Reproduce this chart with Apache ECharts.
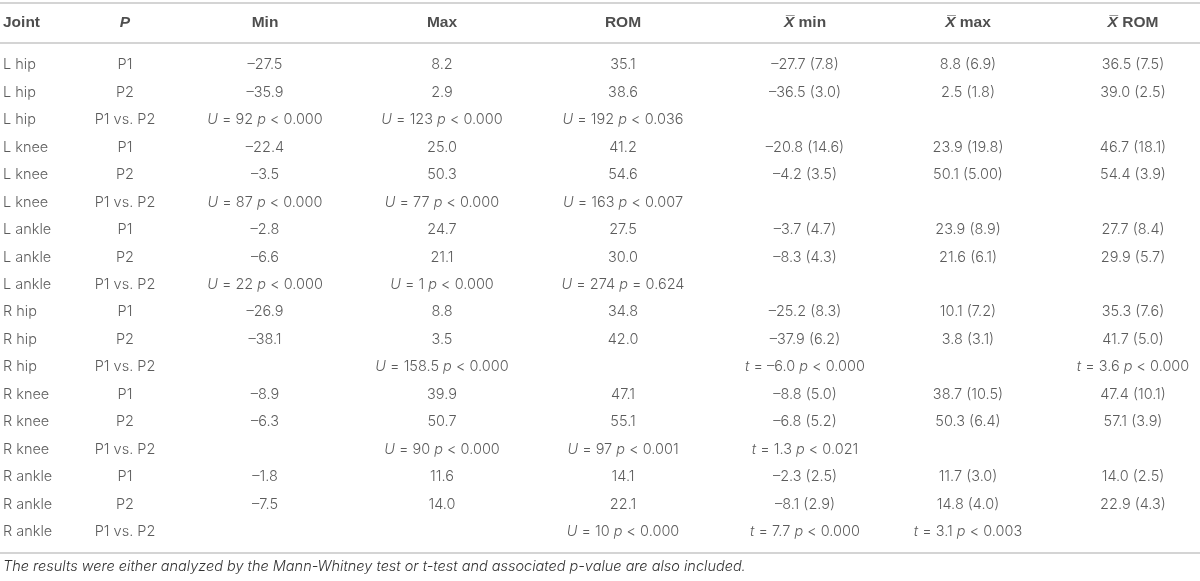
<!DOCTYPE html>
<html>
<head>
<meta charset="utf-8">
<script src="https://cdn.jsdelivr.net/npm/echarts@6/dist/echarts.min.js"></script>
<style>
html,body{margin:0;padding:0;background:#fff;}
#c{width:1200px;height:581px;}
</style>
</head>
<body>
<div id="c"></div>
<script>
// ---------- DATA ----------
const headers = ['Joint', '{bi|P}', 'Min', 'Max', 'ROM', '{bi|X\u0305} min', '{bi|X\u0305} max', '{bi|X\u0305} ROM'];
const jointNames = ['L hip', 'L knee', 'L ankle', 'R hip', 'R knee', 'R ankle'];
const periods = ['P1', 'P2', 'P1 vs. P2'];

const minVals  = [-27.5, -35.9, -22.4, -3.5, -2.8, -6.6, -26.9, -38.1, -8.9, -6.3, -1.8, -7.5];
const maxVals  = [8.2, 2.9, 25.0, 50.3, 24.7, 21.1, 8.8, 3.5, 39.9, 50.7, 11.6, 14.0];
const romVals  = [35.1, 38.6, 41.2, 54.6, 27.5, 30.0, 34.8, 42.0, 47.1, 55.1, 14.1, 22.1];
const meanMin  = [-27.7, -36.5, -20.8, -4.2, -3.7, -8.3, -25.2, -37.9, -8.8, -6.8, -2.3, -8.1];
const sdMin    = [7.8, 3.0, 14.6, 3.5, 4.7, 4.3, 8.3, 6.2, 5.0, 5.2, 2.5, 2.9];
const meanMax  = [8.8, 2.5, 23.9, 50.1, 23.9, 21.6, 10.1, 3.8, 38.7, 50.3, 11.7, 14.8];
const sdMax    = [6.9, 1.8, 19.8, '5.00', 8.9, 6.1, 7.2, 3.1, 10.5, 6.4, 3.0, 4.0];
const meanRom  = [36.5, 39.0, 46.7, 54.4, 27.7, 29.9, 35.3, 41.7, 47.4, 57.1, 14.0, 22.9];
const sdRom    = [7.5, 2.5, 18.1, 3.9, 8.4, 5.7, 7.6, 5.0, 10.1, 3.9, 2.5, 4.3];

// comparison rows (one per joint)
const testMin     = ['U = 92 p < 0.000', 'U = 87 p < 0.000', 'U = 22 p < 0.000', '', '', ''];
const testMax     = ['U = 123 p < 0.000', 'U = 77 p < 0.000', 'U = 1 p < 0.000', 'U = 158.5 p < 0.000', 'U = 90 p < 0.000', ''];
const testRom     = ['U = 192 p < 0.036', 'U = 163 p < 0.007', 'U = 274 p = 0.624', '', 'U = 97 p < 0.001', 'U = 10 p < 0.000'];
const testMeanMin = ['', '', '', 't = \u20136.0 p < 0.000', 't = 1.3 p < 0.021', 't = 7.7 p < 0.000'];
const testMeanMax = ['', '', '', '', '', 't = 3.1 p < 0.003'];
const testMeanRom = ['', '', '', 't = 3.6 p < 0.000', '', ''];

const footnote = 'The results were either analyzed by the Mann-Whitney test or t-test and associated p-value are also included.';

// ---------- LAYOUT ----------
const COL_X = [3, 125, 265, 442, 623, 805, 968, 1133];
const Y_MIN = -2.368, Y_MAX = 18.798;
const HEADER_Y = -1.53;
const RULES_Y = [-2.259, -0.802, 17.778];
const FOOT_TOP = 559;
const FONT = 'Inter, "Liberation Sans", Arial, sans-serif';
const BOLD_FONT = '"Liberation Sans", Arial, sans-serif';
const FS = 14.5;
const HFS = 15.5;
const TXT = '#333';

// ---------- BUILD ----------
function fmt(v) {
  if (v === null || v === undefined || v === '') return '';
  if (typeof v === 'string') return v;
  return (v < 0 ? '\u2013' : '') + Math.abs(v).toFixed(1);
}
function ms(m, s) { return fmt(m) + ' (' + fmt(s) + ')'; }
function stat(s) {
  if (!s) return '';
  return s.replace(/^([Ut]) /, '{i|$1} ').replace(/ p /, ' {i|p} ');
}

const rows = [];
jointNames.forEach(function (j, ji) {
  [0, 1].forEach(function (k) {
    const idx = ji * 2 + k;
    rows.push([j, periods[k], fmt(minVals[idx]), fmt(maxVals[idx]), fmt(romVals[idx]),
      ms(meanMin[idx], sdMin[idx]), ms(meanMax[idx], sdMax[idx]), ms(meanRom[idx], sdRom[idx])]);
  });
  rows.push([j, periods[2], stat(testMin[ji]), stat(testMax[ji]), stat(testRom[ji]),
    stat(testMeanMin[ji]), stat(testMeanMax[ji]), stat(testMeanRom[ji])]);
});

const richBody = {
  i: { fontFamily: FONT, fontSize: FS, fontStyle: 'italic', fontWeight: 300, color: TXT }
};
const richHead = {
  bi: { fontFamily: BOLD_FONT, fontSize: HFS, fontStyle: 'italic', fontWeight: 'bold', color: '#222' }
};

const series = [];
COL_X.forEach(function (x, c) {
  series.push({
    type: 'scatter',
    symbolSize: 0,
    silent: true,
    data: rows.map(function (r, i) { return { value: [x, i], txt: r[c] }; }),
    label: {
      show: true,
      position: 'inside',
      align: c === 0 ? 'left' : 'center',
      verticalAlign: 'middle',
      fontFamily: FONT,
      fontWeight: 300,
      fontSize: FS,
      color: TXT,
      rich: richBody,
      formatter: function (p) { return p.data.txt; }
    }
  });
});
series.push({
  type: 'scatter',
  symbolSize: 0,
  silent: true,
  data: headers.map(function (h, c) {
    return { value: [COL_X[c], HEADER_Y], txt: h, label: { align: c === 0 ? 'left' : 'center' } };
  }),
  label: {
    show: true,
    position: 'inside',
    verticalAlign: 'middle',
    fontFamily: BOLD_FONT,
    fontWeight: 'bold',
    fontSize: HFS,
    color: '#222',
    rich: richHead,
    formatter: function (p) { return p.data.txt; }
  },
  markLine: {
    silent: true,
    symbol: 'none',
    label: { show: false },
    lineStyle: { color: '#c6c6c6', width: 1.5, type: 'solid' },
    data: RULES_Y.map(function (y) { return { yAxis: y }; })
  }
});

const chart = echarts.init(document.getElementById('c'));
chart.setOption({
  animation: false,
  backgroundColor: '#fff',
  title: {
    text: footnote,
    left: 0,
    top: FOOT_TOP,
    padding: [0, 3],
    textStyle: { fontFamily: FONT, fontSize: FS, fontStyle: 'italic', fontWeight: 300, color: TXT }
  },
  grid: { left: 0, right: 0, top: 0, bottom: 0 },
  xAxis: { type: 'value', min: 0, max: 1200, show: false },
  yAxis: { type: 'value', min: Y_MIN, max: Y_MAX, inverse: true, show: false },
  series: series
});
</script>
</body>
</html>
